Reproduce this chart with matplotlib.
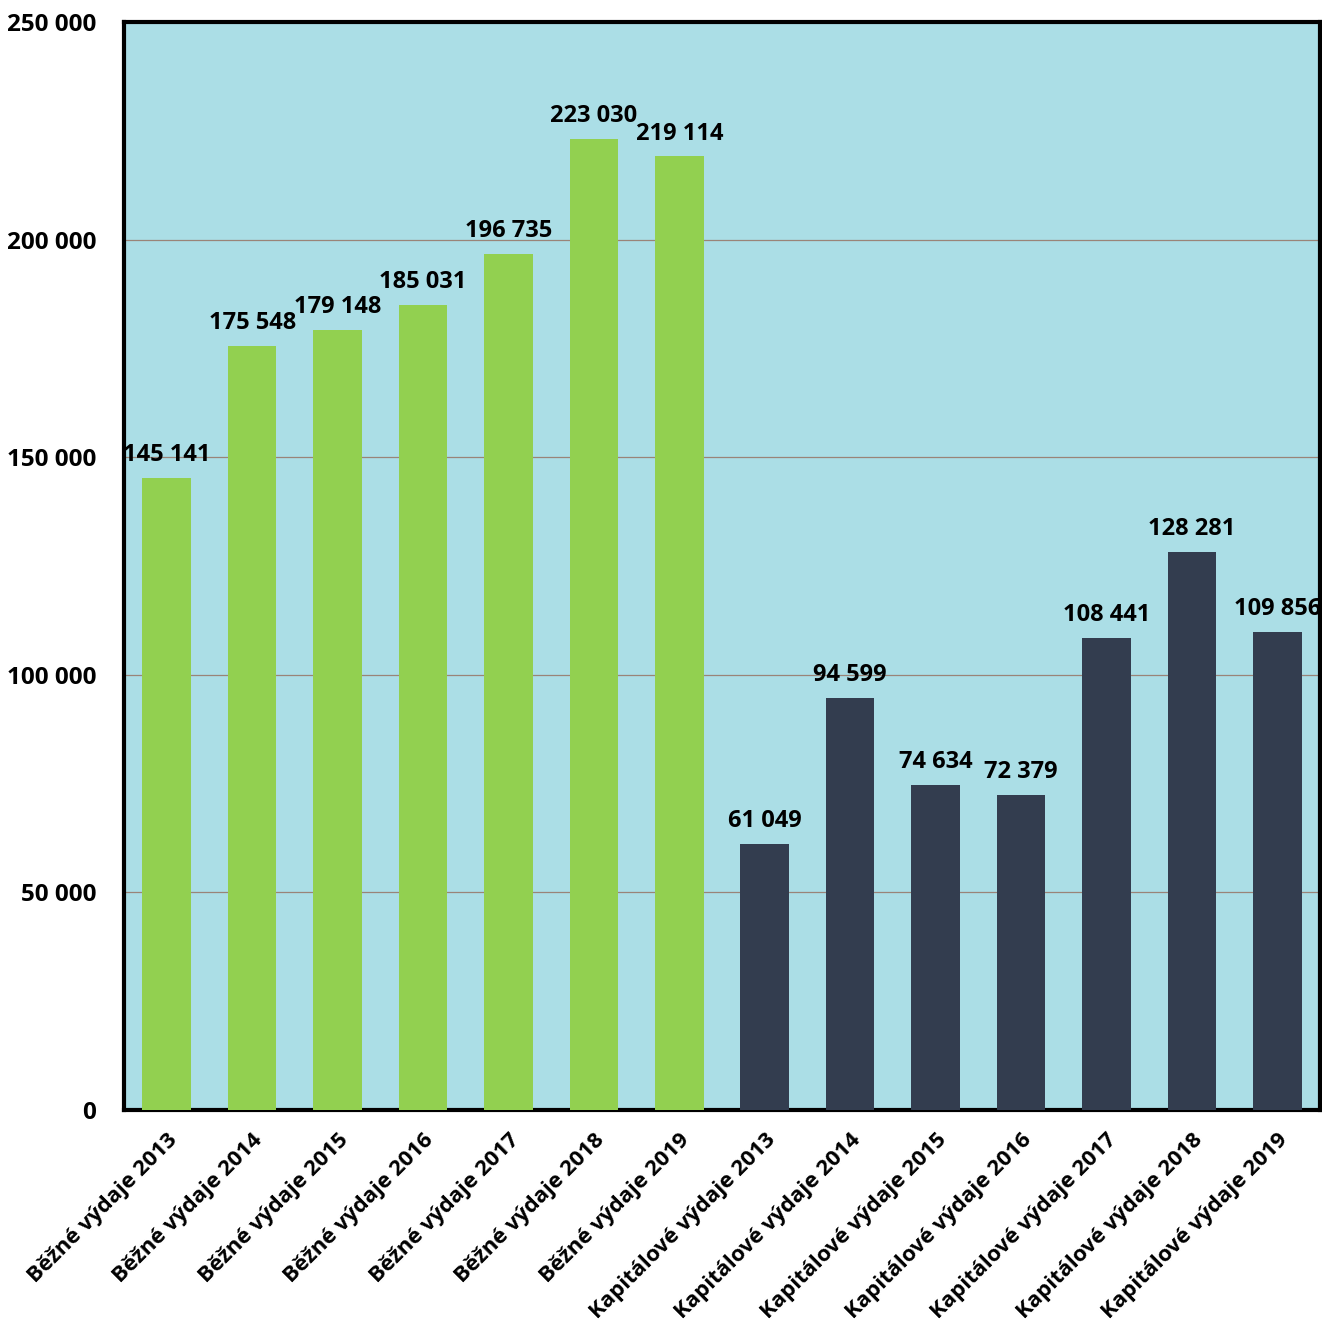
import matplotlib.pyplot as plt
from matplotlib.ticker import FuncFormatter

plt.rcParams['font.family'] = ['Open Sans', 'DejaVu Sans']

categories = [
    "Běžné výdaje 2013", "Běžné výdaje 2014", "Běžné výdaje 2015",
    "Běžné výdaje 2016", "Běžné výdaje 2017", "Běžné výdaje 2018",
    "Běžné výdaje 2019",
    "Kapitálové výdaje 2013", "Kapitálové výdaje 2014", "Kapitálové výdaje 2015",
    "Kapitálové výdaje 2016", "Kapitálové výdaje 2017", "Kapitálové výdaje 2018",
    "Kapitálové výdaje 2019",
]
bezne = [145141, 175548, 179148, 185031, 196735, 223030, 219114]
kapitalove = [61049, 94599, 74634, 72379, 108441, 128281, 109856]
values = bezne + kapitalove
colors = ["#92d050"] * len(bezne) + ["#333d4f"] * len(kapitalove)


def fmt(v, pos=None):
    return f"{int(v):,}".replace(",", " ")


fig = plt.figure(figsize=(13.22, 13.31), dpi=100)
ax = fig.add_axes([124 / 1322, 1 - 1110 / 1331, 1196 / 1322, 1088 / 1331])
ax.set_facecolor("#abdee6")

x = range(len(values))
bars = ax.bar(x, values, width=0.57, color=colors, zorder=3)

for xi, v in zip(x, values):
    ax.text(xi, v + 2500, fmt(v), ha="center", va="bottom",
            fontsize=17, fontweight="bold", zorder=4)

ax.set_xlim(-0.5, len(values) - 0.5)
ax.set_ylim(0, 250000)
ax.set_yticks(range(0, 250001, 50000))
ax.yaxis.set_major_formatter(FuncFormatter(fmt))
ax.grid(axis="y", color="#9a8478", linewidth=0.9, zorder=1)

ax.set_xticks(list(x))
ax.set_xticklabels(categories, rotation=45, ha="right", rotation_mode="anchor",
                   fontsize=16, fontweight="bold")
for lbl in ax.get_yticklabels():
    lbl.set_fontsize(17.5)
    lbl.set_fontweight("bold")
ax.tick_params(length=0, pad=20)
ax.tick_params(axis="x", pad=14)

for s in ax.spines.values():
    s.set_linewidth(3)
    s.set_color("black")

fig.savefig("out.png", dpi=100)
